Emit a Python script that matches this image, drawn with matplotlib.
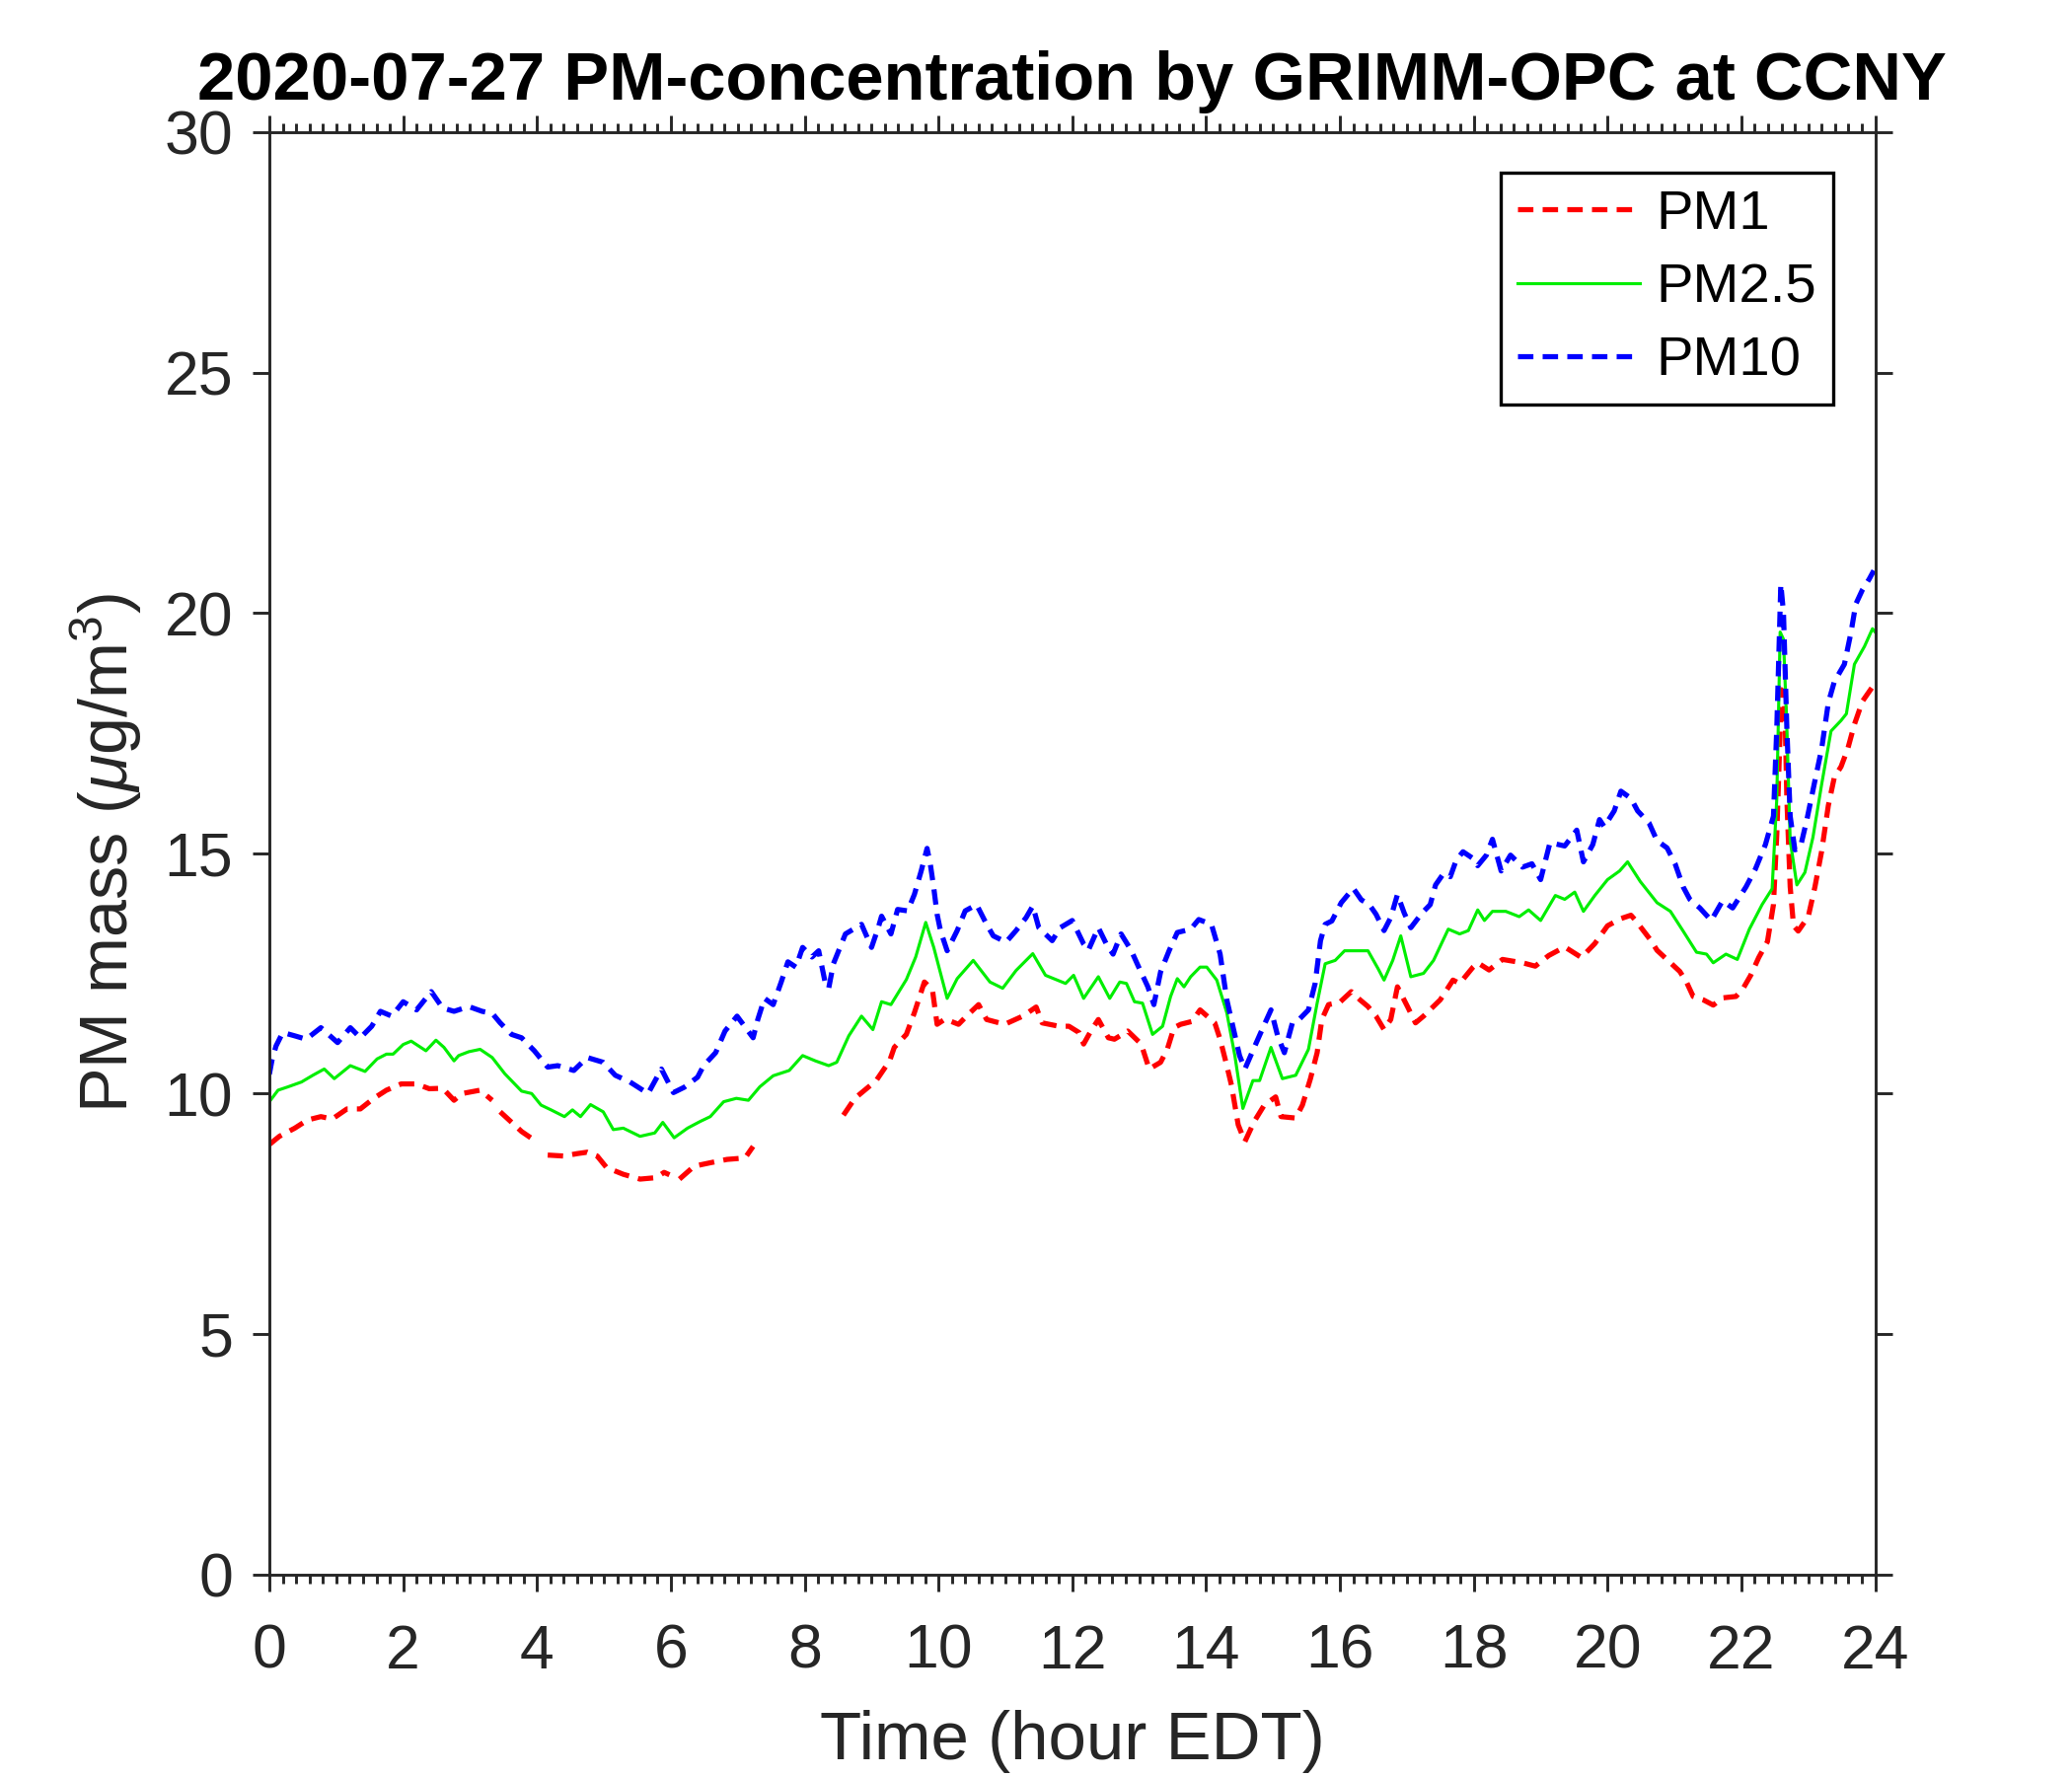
import numpy as np
import matplotlib
matplotlib.use("Agg")
import matplotlib.pyplot as plt
from matplotlib.ticker import MultipleLocator

# PM1 (red, dashed) - NaN marks missing data
hours_pm1 = [0, 0.15, 0.38, 0.57, 0.77, 0.94, 1.16, 1.36, 1.56, 1.75, 1.97, 2.2, 2.39, 2.59,
             2.76, 2.88, 3.15, 3.33, 3.39, 3.45, 3.77, 3.99, 4.07, 4.16, 4.4, 4.6, 4.75, 4.9,
             5.04, 5.29, 5.54, 5.78, 5.9, 5.98, 6.05, 6.13, 6.35, 6.59, 6.84, 7.11, 7.23, 7.9,
             8.58, 8.75, 9.07, 9.27, 9.34, 9.52, 9.64, 9.79, 9.91, 9.98, 10.1, 10.3, 10.42,
             10.6, 10.72, 10.99, 11.26, 11.46, 11.55, 11.8, 11.95, 12.1, 12.17, 12.29, 12.39,
             12.54, 12.63, 12.83, 13.03, 13.15, 13.32, 13.42, 13.52, 13.62, 13.79, 13.91, 14.13,
             14.21, 14.31, 14.38, 14.43, 14.48, 14.58, 14.72, 14.87, 15.04, 15.12, 15.34, 15.44,
             15.56, 15.66, 15.73, 15.83, 16.0, 16.17, 16.3, 16.42, 16.54, 16.66, 16.76, 16.86,
             17.01, 17.13, 17.25, 17.5, 17.69, 17.79, 17.99, 18.06, 18.23, 18.43, 18.73, 18.92,
             19.12, 19.36, 19.61, 19.81, 20.0, 20.2, 20.35, 20.42, 20.64, 20.74, 21.08, 21.18,
             21.28, 21.43, 21.58, 21.72, 21.92, 22.02, 22.14, 22.26, 22.39, 22.48, 22.53, 22.6,
             22.65, 22.68, 22.73, 22.78, 22.85, 23.0, 23.1, 23.2, 23.3, 23.39, 23.49, 23.59,
             23.69, 23.81, 23.96, 24.0]
pm1 = [8.94, 9.11, 9.28, 9.45, 9.52, 9.47, 9.68, 9.68, 9.90, 10.07, 10.2, 10.2, 10.1, 10.11,
       9.86, 10.0, 10.07, 9.86, np.nan, 9.62, 9.21, 9.0, np.nan, 8.72, 8.70, 8.75, 8.78, 8.70,
       8.46, 8.32, 8.22, 8.25, 8.36, 8.31, np.nan, 8.22, 8.49, 8.56, 8.63, 8.66, 8.9, np.nan,
       9.55, 9.9, 10.27, 10.68, 10.96, 11.23, 11.68, 12.32, 12.16, 11.44, 11.55, 11.44, 11.61,
       11.85, 11.54, 11.44, 11.61, 11.8, 11.47, 11.40, 11.4, 11.27, 11.03, 11.33, 11.54,
       11.16, 11.13, 11.3, 11.03, 10.51, 10.65, 10.92, 11.37, 11.44, 11.5, 11.74, 11.47,
       11.13, 10.58, 10.17, 9.76, 9.35, 9.0, 9.42, 9.76, 9.93, 9.52, 9.49, 9.76,
       10.31, 10.85, 11.54, 11.85, 11.9, 12.12, 11.95, 11.81, 11.61, 11.33, 11.54, 12.22,
       11.81, 11.47, 11.61, 11.95, 12.36, 12.29, 12.63, 12.72, 12.57, 12.79, 12.72, 12.65,
       12.87, 13.05, 12.83, 13.12, 13.49, 13.64, 13.71, 13.6, 13.2, 12.98, 12.54, 12.32,
       12.02, 11.95, 11.84, 11.99, 12.02, 12.17, 12.46, 12.83, 13.16, 13.93, 15.4, 18.4,
       18.12, 16.14, 14.3, 13.49, 13.38, 13.68, 14.3, 15.04, 15.99, 16.58, 16.8, 17.17,
       17.68, 18.16, 18.46, 18.5]

# PM2.5 (green, solid)
hours_pm25 = [0, 0.13, 0.28, 0.48, 0.65, 0.82, 0.97, 1.21, 1.43, 1.61, 1.75, 1.85, 2.0, 2.12,
              2.34, 2.49, 2.61, 2.76, 2.83, 2.98, 3.15, 3.33, 3.52, 3.77, 3.92, 4.06, 4.21,
              4.41, 4.53, 4.65, 4.80, 4.99, 5.14, 5.29, 5.54, 5.76, 5.88, 6.05, 6.25, 6.44,
              6.59, 6.79, 6.98, 7.16, 7.33, 7.53, 7.77, 7.97, 8.16, 8.36, 8.48, 8.66, 8.85,
              9.02, 9.15, 9.29, 9.52, 9.66, 9.81, 9.93, 10.13, 10.28, 10.52, 10.77, 10.96,
              11.16, 11.41, 11.60, 11.90, 12.02, 12.17, 12.39, 12.56, 12.71, 12.81, 12.93,
              13.05, 13.2, 13.35, 13.47, 13.57, 13.67, 13.77, 13.91, 14.01, 14.16, 14.31,
              14.43, 14.55, 14.7, 14.8, 14.97, 15.14, 15.34, 15.53, 15.66, 15.78, 15.93, 16.07,
              16.22, 16.42, 16.57, 16.66, 16.79, 16.91, 17.06, 17.25, 17.4, 17.62, 17.79,
              17.92, 18.06, 18.16, 18.28, 18.48, 18.68, 18.82, 19.0, 19.22, 19.36, 19.51,
              19.64, 19.81, 20.0, 20.18, 20.3, 20.49, 20.74, 20.94, 21.13, 21.33, 21.48, 21.58,
              21.77, 21.94, 22.12, 22.31, 22.46, 22.53, 22.58, 22.63, 22.68, 22.73, 22.83,
              22.95, 23.07, 23.2, 23.34, 23.49, 23.57, 23.69, 23.84, 23.96, 24.0]
pm25 = [9.83, 10.07, 10.14, 10.24, 10.38, 10.51, 10.31, 10.58, 10.46, 10.72, 10.82, 10.82,
        11.02, 11.09, 10.89, 11.11, 10.96, 10.68, 10.79, 10.87, 10.92, 10.75, 10.41, 10.05,
        10.0, 9.76, 9.66, 9.52, 9.66, 9.52, 9.77, 9.62, 9.25, 9.28, 9.11, 9.18, 9.40, 9.08,
        9.28, 9.42, 9.52, 9.83, 9.9, 9.86, 10.14, 10.37, 10.48, 10.79, 10.68, 10.58, 10.65,
        11.2, 11.61, 11.33, 11.91, 11.85, 12.37, 12.84, 13.56, 13.04, 11.98, 12.39, 12.77,
        12.32, 12.19, 12.56, 12.91, 12.46, 12.29, 12.46, 11.98, 12.43, 11.98, 12.32, 12.29,
        11.91, 11.88, 11.23, 11.4, 12.02, 12.39, 12.22, 12.43, 12.63, 12.63, 12.36, 11.68,
        10.79, 9.69, 10.27, 10.27, 10.96, 10.31, 10.38, 10.92, 11.88, 12.7, 12.77, 12.97,
        12.97, 12.97, 12.6, 12.36, 12.77, 13.28, 12.43, 12.5, 12.77, 13.42, 13.32, 13.39,
        13.82, 13.6, 13.79, 13.79, 13.68, 13.82, 13.6, 14.12, 14.04, 14.19, 13.79, 14.12,
        14.45, 14.63, 14.82, 14.41, 13.97, 13.79, 13.38, 12.94, 12.9, 12.72, 12.9, 12.79,
        13.42, 13.93, 14.26, 16.14, 19.6, 19.45, 17.61, 15.26, 14.34, 14.6, 15.33, 16.43,
        17.54, 17.76, 17.9, 18.93, 19.3, 19.67, 19.6]

# PM10 (blue, dashed)
hours_pm10 = [0, 0.04, 0.1, 0.2, 0.38, 0.55, 0.77, 1.02, 1.21, 1.36, 1.53, 1.66, 1.83, 2.0,
              2.2, 2.42, 2.59, 2.76, 2.98, 3.18, 3.33, 3.45, 3.62, 3.77, 3.96, 4.16, 4.31,
              4.55, 4.75, 4.99, 5.17, 5.39, 5.66, 5.86, 6.04, 6.2, 6.4, 6.49, 6.67, 6.81, 6.99,
              7.23, 7.3, 7.4, 7.53, 7.65, 7.75, 7.87, 7.97, 8.11, 8.21, 8.31, 8.36, 8.43, 8.61,
              8.85, 9.0, 9.1, 9.15, 9.29, 9.39, 9.54, 9.64, 9.74, 9.83, 9.88, 9.93, 9.98, 10.03,
              10.13, 10.28, 10.4, 10.57, 10.72, 10.82, 11.01, 11.16, 11.31, 11.41, 11.5, 11.7,
              11.82, 12.0, 12.17, 12.24, 12.39, 12.51, 12.61, 12.73, 12.88, 12.98, 13.13, 13.22,
              13.32, 13.45, 13.57, 13.77, 13.89, 14.08, 14.21, 14.31, 14.4, 14.5, 14.58, 14.72,
              14.85, 14.97, 15.07, 15.17, 15.29, 15.39, 15.53, 15.63, 15.71, 15.78, 15.88,
              16.02, 16.2, 16.32, 16.44, 16.54, 16.66, 16.76, 16.86, 16.96, 17.06, 17.23, 17.35,
              17.43, 17.55, 17.65, 17.74, 17.84, 17.99, 18.06, 18.19, 18.28, 18.41, 18.55,
              18.73, 18.87, 19.0, 19.14, 19.36, 19.54, 19.64, 19.78, 19.88, 19.95, 20.1, 20.2,
              20.35, 20.45, 20.62, 20.74, 20.89, 21.01, 21.13, 21.23, 21.38, 21.55, 21.72,
              21.87, 22.07, 22.21, 22.36, 22.48, 22.53, 22.59, 22.63, 22.68, 22.73, 22.8, 22.88,
              22.98, 23.1, 23.2, 23.3, 23.39, 23.54, 23.64, 23.71, 23.81, 23.91, 23.98]
pm10 = [10.4, 10.7, 10.99, 11.27, 11.2, 11.13, 11.37, 11.06, 11.37, 11.16, 11.4, 11.71, 11.61,
        11.91, 11.74, 12.12, 11.78, 11.71, 11.81, 11.71, 11.67, 11.47, 11.23, 11.16, 10.89,
        10.55, 10.58, 10.48, 10.75, 10.65, 10.38, 10.24, 10.0, 10.51, 10.02, 10.13, 10.34,
        10.58, 10.85, 11.3, 11.61, 11.16, 11.54, 11.98, 11.85, 12.32, 12.74, 12.63, 13.04,
        12.84, 12.97, 12.29, 12.19, 12.7, 13.32, 13.52, 13.04, 13.45, 13.69, 13.32, 13.83,
        13.8, 14.14, 14.62, 15.1, 14.76, 14.28, 13.73, 13.39, 12.97, 13.39, 13.8, 13.93,
        13.52, 13.28, 13.15, 13.39, 13.66, 13.9, 13.45, 13.18, 13.45, 13.6, 13.11, 12.98,
        13.45, 13.11, 12.9, 13.32, 12.98, 12.67, 12.22, 11.85, 12.53, 12.98, 13.35, 13.42,
        13.62, 13.52, 12.9, 11.95, 11.4, 10.79, 10.51, 10.96, 11.37, 11.74, 11.2, 10.85,
        11.47, 11.54, 11.74, 12.29, 13.18, 13.52, 13.59, 13.97, 14.27, 14.03, 13.93, 13.73,
        13.39, 13.66, 14.14, 13.76, 13.45, 13.76, 13.93, 14.34, 14.58, 14.51, 14.86, 15.03,
        14.89, 14.74, 14.96, 15.29, 14.63, 14.96, 14.71, 14.78, 14.45, 15.22, 15.15, 15.48,
        14.82, 15.18, 15.7, 15.55, 15.88, 16.29, 16.14, 15.88, 15.63, 15.26, 15.11, 14.78,
        14.3, 14.04, 13.86, 13.6, 14.01, 13.86, 14.3, 14.67, 15.18, 15.77, 17.61, 20.6,
        20.0, 17.61, 15.77, 15.07, 15.11, 15.7, 16.51, 17.17, 18.13, 18.57, 18.93, 19.6,
        20.18, 20.48, 20.7, 20.88]

x_ticks = np.arange(0, 25, 2)
y_ticks = np.arange(0, 31, 5)

plt.rcParams["font.family"] = ["Liberation Sans", "DejaVu Sans"]
plt.rcParams["mathtext.fontset"] = "custom"
plt.rcParams["mathtext.rm"] = "Liberation Sans"
plt.rcParams["mathtext.it"] = "Liberation Sans:italic"

axis_gray = "#262626"

fig = plt.figure(figsize=(7, 6), dpi=300)
ax = fig.add_axes([0.130, 0.1136, 0.775, 0.812])

dash = (0, (3.0, 1.8))
ax.plot(hours_pm1, pm1, color="#ff0000", linestyle=dash, lw=1.25, label="PM1")
ax.plot(hours_pm25, pm25, color="#00ee00", linestyle="-", lw=0.75, label="PM2.5")
ax.plot(hours_pm10, pm10, color="#0000ff", linestyle=dash, lw=1.25, label="PM10")

ax.set_xlim(0, 24)
ax.set_ylim(0, 30)
ax.set_xticks(x_ticks)
ax.set_yticks(y_ticks)
ax.xaxis.set_minor_locator(MultipleLocator(0.2))

# ticks pointing out on every side, like the original
ax.tick_params(which="both", direction="out", top=True, right=True,
               color=axis_gray, labelcolor=axis_gray, labelsize=15, width=0.7)
ax.tick_params(which="major", length=4.0)
ax.tick_params(which="minor", length=2.2)
ax.tick_params(axis="x", which="major", pad=7.8)
ax.tick_params(axis="y", which="major", pad=4.8)
for sp in ax.spines.values():
    sp.set_color(axis_gray)
    sp.set_linewidth(0.7)

ax.set_xlabel("Time (hour EDT)", fontsize=16.6, color=axis_gray, labelpad=7)
ax.set_ylabel(r"PM mass ($\mu$g/m$^3$)", fontsize=16.4, color=axis_gray, labelpad=5)
# title sits just clear of the "30" tick label
ax.set_title("2020-07-27 PM-concentration by GRIMM-OPC at CCNY",
             fontsize=16.5, fontweight="bold", color="black", pad=8)

leg = ax.legend(loc="upper right", bbox_to_anchor=(0.974, 0.972), borderaxespad=0,
                fontsize=13.5, handlelength=2.2, handletextpad=0.3, borderpad=0.3,
                labelspacing=0.4, fancybox=False, framealpha=1, edgecolor="black")
leg.get_frame().set_linewidth(0.8)

fig.savefig("out.png", dpi=300)
